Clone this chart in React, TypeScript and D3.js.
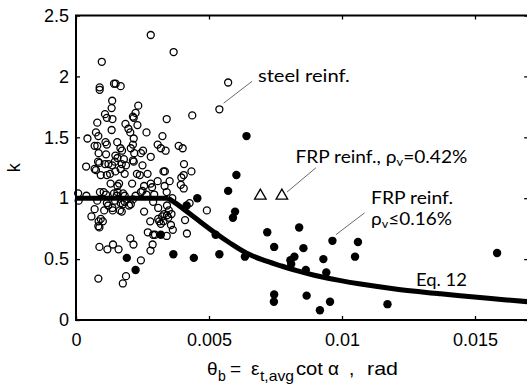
import { useRef, useEffect } from 'react';
import * as d3 from 'd3';

// steel reinforced specimens: [theta_b, k]
const steel: [number, number][] = [
  [0.00281, 2.34], [0.00367, 2.2], [0.00572, 1.95], [0.00539, 1.73], [0.00097, 2.12],
  [0.00089, 1.91], [0.00089, 1.89], [0.00143, 1.94], [0.00149, 1.94], [0.00168, 1.92],
  [0.00136, 1.8], [0.00134, 1.74], [0.00234, 1.76], [0.00224, 1.7], [0.00214, 1.67],
  [0.00217, 1.66], [0.00109, 1.69], [0.00116, 1.66], [0.00137, 1.65], [0.0008, 1.62],
  [0.00186, 1.61], [0.00231, 1.6], [0.00341, 1.65], [0.00437, 1.68], [0.00134, 1.56],
  [0.00075, 1.54], [0.00204, 1.54], [0.00265, 1.54], [0.00043, 1.49], [0.00084, 1.51],
  [0.00155, 1.46], [0.00217, 1.49], [0.00325, 1.51], [0.00111, 1.46], [0.00116, 1.44],
  [0.0007, 1.43], [0.0008, 1.43], [0.00307, 1.44], [0.00319, 1.41], [0.00386, 1.43],
  [0.00401, 1.41], [0.00252, 1.39], [0.00206, 1.41], [0.00214, 1.44], [0.00167, 1.41],
  [0.00173, 1.39], [0.00085, 1.37], [0.00113, 1.36], [0.00281, 1.34], [0.00337, 1.39],
  [0.00148, 1.35], [0.00156, 1.33], [0.00214, 1.31], [0.00217, 1.3], [0.0018, 1.32],
  [0.00083, 1.3], [0.00088, 1.29], [0.00109, 1.28], [0.00122, 1.28], [0.00146, 1.3],
  [0.00136, 1.27], [0.00172, 1.28], [0.00188, 1.27], [0.00406, 1.28], [0.00038, 1.26],
  [0.0007, 1.24], [0.00075, 1.23], [0.0025, 1.27], [0.00329, 1.22], [0.00334, 1.22],
  [0.00434, 1.22], [0.00093, 1.19], [0.00116, 1.19], [0.00128, 1.2], [0.00148, 1.22],
  [0.00229, 1.2], [0.0024, 1.19], [0.00405, 1.19], [0.00396, 1.17], [0.0013, 1.12],
  [0.00162, 1.12], [0.00156, 1.1], [0.00211, 1.12], [0.00281, 1.12], [0.00256, 1.1],
  [0.0025, 1.06], [0.00244, 1.05], [0.00286, 1.09], [0.00333, 1.1], [0.00394, 1.11],
  [0.00405, 1.08], [0.00008, 1.04], [0.0001, 0.98], [0.0009, 1.05], [0.00104, 1.05],
  [0.00113, 1.03], [0.00143, 1.04], [0.00156, 1.05], [0.00153, 1.02], [0.00177, 1.04],
  [0.00224, 1.02], [0.00265, 1.03], [0.00294, 1.03], [0.00341, 1.05], [0.0008, 0.98],
  [0.00116, 0.96], [0.00121, 0.94], [0.00147, 0.98], [0.00168, 0.96], [0.00176, 0.95],
  [0.00183, 0.97], [0.00137, 0.92], [0.00165, 0.9], [0.00206, 0.95], [0.00106, 0.9],
  [0.00138, 0.9], [0.0007, 0.91], [0.00172, 0.89], [0.00256, 0.89], [0.00309, 0.92],
  [0.00342, 0.94], [0.00427, 0.96], [0.00492, 0.9], [0.00362, 1.0], [0.00058, 0.85],
  [0.00093, 0.83], [0.00085, 0.81], [0.00101, 0.81], [0.00084, 0.77], [0.00088, 0.76],
  [0.00279, 0.81], [0.00324, 0.85], [0.00342, 0.86], [0.00332, 0.87], [0.00349, 0.9],
  [0.00313, 0.81], [0.00319, 0.79], [0.00359, 0.87], [0.0041, 0.82], [0.00357, 0.78],
  [0.00364, 0.74], [0.0027, 0.72], [0.0029, 0.7], [0.00297, 0.7], [0.00341, 0.69],
  [0.00417, 0.71], [0.00204, 0.67], [0.00216, 0.62], [0.00088, 0.6], [0.00118, 0.58],
  [0.00139, 0.62], [0.0016, 0.58], [0.00288, 0.62], [0.0028, 0.57], [0.00244, 0.49],
  [0.00188, 0.36], [0.00176, 0.3], [0.00084, 0.34], [0.00039, 1.02], [0.00197, 1.57],
  [0.00244, 1.37], [0.00219, 1.37], [0.00183, 1.2], [0.00168, 1.24], [0.00269, 1.2],
  [0.00307, 1.14], [0.00352, 1.14], [0.00214, 0.99], [0.0029, 0.97], [0.00347, 0.84],
  [0.00329, 0.81], [0.00309, 0.83], [0.00199, 0.94], [0.00183, 1.02],
];

// FRP reinforced, rho_v <= 0.16%
const frpLow: [number, number][] = [
  [0.00641, 1.51], [0.00603, 1.19], [0.00572, 1.06], [0.00456, 1.0], [0.00598, 0.89],
  [0.0059, 0.84], [0.00416, 0.94], [0.00319, 0.7], [0.00191, 0.51], [0.00224, 0.41],
  [0.00366, 0.54], [0.00443, 0.51], [0.00525, 0.7], [0.00539, 0.54], [0.00635, 0.52],
  [0.00719, 0.72], [0.00745, 0.6], [0.00839, 0.76], [0.00855, 0.59], [0.00821, 0.52],
  [0.00806, 0.49], [0.00809, 0.46], [0.00864, 0.41], [0.0093, 0.5], [0.00941, 0.39],
  [0.00964, 0.65], [0.0106, 0.64], [0.01049, 0.52], [0.01583, 0.55], [0.00745, 0.21],
  [0.00744, 0.15], [0.00867, 0.2], [0.00917, 0.08], [0.00955, 0.15], [0.01171, 0.13],
];

// FRP reinforced, rho_v = 0.42%
const frpHigh: [number, number][] = [[0.00693, 1.02], [0.00774, 1.02]];

// Eq. 12
const eq12Flat: [number, number][] = [[0, 1], [0.00346, 1]];
const eq12Decay: [number, number][] = [
  [0.00346, 1], [0.0039, 0.935], [0.0045, 0.835], [0.0052, 0.72], [0.0058, 0.63],
  [0.0064, 0.55], [0.007, 0.495], [0.0077, 0.445], [0.0083, 0.405], [0.009, 0.365],
  [0.0099, 0.325], [0.0107, 0.295], [0.012, 0.255], [0.0137, 0.215], [0.0155, 0.178],
  [0.017, 0.15],
];

const xTicks = [0, 0.005, 0.01, 0.015];
const xTickLabels = ['0', '0.005', '0.01', '0.015'];
const yTicks = [0, 0.5, 1, 1.5, 2, 2.5];
const yTickLabels = ['0', '0.5', '1', '1.5', '2', '2.5'];

// annotations: text start + leader line, in data units; second value = printed width in px
const notes = [
  { lines: [['steel reinf.', 92]], at: [0.00684, 1.95], from: [0.00555, 1.78], to: [0.00662, 1.96] },
  { lines: [['FRP reinf., ρ|v|=0.42%', 172]], at: [0.00825, 1.29], from: [0.00793, 1.05], to: [0.00902, 1.25] },
  { lines: [['FRP reinf.', 82], ['ρ|v|≤0.16%', 81]], at: [0.01109, 0.95], from: [0.00977, 0.7], to: [0.01085, 0.88] },
  { lines: [['Eq. 12', 51]], at: [0.01278, 0.28], from: null, to: null },
];

export default function App() {
  const ref = useRef<SVGSVGElement>(null);

  useEffect(() => {
    const W = 527, H = 390;
    const x = d3.scaleLinear().domain([0, 0.017]).range([76, 528.2]);
    const y = d3.scaleLinear().domain([0, 2.5]).range([320, 15.5]);

    const svg = d3.select(ref.current)
      .attr('width', W).attr('height', H);
    svg.selectAll('*').remove();

    const axisFont = '"Liberation Sans", Arial, sans-serif';
    const noteFont = 'Lato, "Open Sans", sans-serif';

    const styleAxis = (g: any) => {
      g.select('.domain').remove();
      g.selectAll('line').attr('stroke', '#000').attr('stroke-width', 1.3);
      g.selectAll('text').attr('fill', '#000').attr('font-family', axisFont).attr('font-size', 18);
    };

    svg.append('g')
      .attr('transform', `translate(0,${y(0)})`)
      .call(d3.axisBottom(x).tickValues(xTicks).tickFormat((_, i) => xTickLabels[i])
        .tickSizeInner(-4).tickSizeOuter(0).tickPadding(13))
      .call(styleAxis);
    svg.append('g')
      .attr('transform', `translate(0,${y(2.5)})`)
      .call(d3.axisTop(x).tickValues(xTicks).tickFormat(() => '')
        .tickSizeInner(-4).tickSizeOuter(0))
      .call(styleAxis);
    svg.append('g')
      .attr('transform', `translate(${x(0)},0)`)
      .call(d3.axisLeft(y).tickValues(yTicks).tickFormat((_, i) => yTickLabels[i])
        .tickSizeInner(-4).tickSizeOuter(0).tickPadding(7))
      .call(styleAxis);
    svg.append('g')
      .attr('transform', `translate(${x(0.017)},0)`)
      .call(d3.axisRight(y).tickValues(yTicks).tickFormat(() => '')
        .tickSizeInner(-4).tickSizeOuter(0))
      .call(styleAxis);

    // frame
    svg.append('rect')
      .attr('x', x(0)).attr('y', y(2.5))
      .attr('width', x(0.017) - x(0)).attr('height', y(0) - y(2.5))
      .attr('fill', 'none').attr('stroke', '#000').attr('stroke-width', 2);

    // markers
    svg.append('g').selectAll('circle')
      .data(steel).join('circle')
      .attr('cx', d => x(d[0])).attr('cy', d => y(d[1])).attr('r', 3.5)
      .attr('fill', 'none').attr('stroke', '#000').attr('stroke-width', 1.3);

    svg.append('g').selectAll('circle')
      .data(frpLow).join('circle')
      .attr('cx', d => x(d[0])).attr('cy', d => y(d[1])).attr('r', 4.2)
      .attr('fill', '#000');

    svg.append('g').selectAll('path')
      .data(frpHigh).join('path')
      .attr('transform', d => `translate(${x(d[0])},${y(d[1])})`)
      .attr('d', d3.symbol(d3.symbolTriangle, 58)())
      .attr('fill', '#fff').attr('stroke', '#000').attr('stroke-width', 1.3);

    // Eq. 12
    const line = d3.line<[number, number]>().x(d => x(d[0])).y(d => y(d[1]));
    svg.append('path').attr('d', line(eq12Flat))
      .attr('fill', 'none').attr('stroke', '#000').attr('stroke-width', 5);
    svg.append('path').attr('d', line.curve(d3.curveCatmullRom.alpha(0.5))(eq12Decay))
      .attr('fill', 'none').attr('stroke', '#000').attr('stroke-width', 5)
      .attr('stroke-linejoin', 'round');

    // annotations
    notes.forEach(n => {
      if (n.from && n.to) {
        svg.append('line')
          .attr('x1', x(n.from[0])).attr('y1', y(n.from[1]))
          .attr('x2', x(n.to[0])).attr('y2', y(n.to[1]))
          .attr('stroke', '#444').attr('stroke-width', 0.8);
      }
      n.lines.forEach(([s, w], i) => {
        const tx = x(n.at[0]), ty = y(n.at[1]) + i * 20.5;
        const t = svg.append('text')
          .attr('font-family', noteFont).attr('font-size', 16.5).attr('fill', '#000');
        (s as string).split('|').forEach((part, j) => {
          const sp = t.append('tspan').text(part);
          if (j === 1) sp.attr('font-size', 11).attr('dy', 3);
          if (j === 2) sp.attr('dy', -3);
        });
        const node = t.node() as SVGTextElement;
        const mw = node.getComputedTextLength() || (w as number);
        t.attr('transform', `translate(${tx},${ty}) scale(${(w as number) / mw},1)`);
      });
    });

    // axis titles
    svg.append('text')
      .attr('transform', `translate(20,${y(1.25)}) rotate(-90)`)
      .attr('text-anchor', 'middle')
      .attr('font-family', axisFont).attr('font-size', 18)
      .text('k');

    const xt = svg.append('text')
      .attr('y', 375)
      .attr('font-family', axisFont).attr('font-size', 19).attr('fill', '#000');
    xt.append('tspan').text('θ').attr('x', 207);
    xt.append('tspan').text('b').attr('x', 218).attr('font-size', 14).attr('dy', 6);
    xt.append('tspan').text('=').attr('x', 230).attr('dy', -6);
    xt.append('tspan').text('ε').attr('x', 251);
    xt.append('tspan').text('t,avg').attr('x', 260).attr('font-size', 15).attr('dy', 6)
      .attr('textLength', 34).attr('lengthAdjust', 'spacingAndGlyphs');
    xt.append('tspan').text('cot').attr('x', 296).attr('dy', -6)
      .attr('textLength', 27).attr('lengthAdjust', 'spacingAndGlyphs');
    xt.append('tspan').text('α').attr('x', 328);
    xt.append('tspan').text(',').attr('x', 349);
    xt.append('tspan').text('rad').attr('x', 367)
      .attr('textLength', 31).attr('lengthAdjust', 'spacingAndGlyphs');
  }, []);

  return (
    <svg ref={ref} style={{ position: 'absolute', left: 0, top: 0, background: '#fff' }} />
  );
}
